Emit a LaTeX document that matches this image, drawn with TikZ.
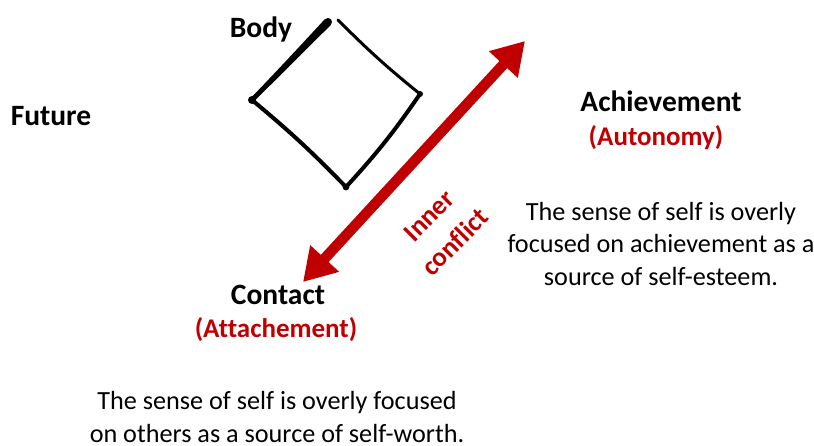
\documentclass[tikz,border=0pt]{standalone}
\usepackage{fontspec}
\setmainfont{Carlito}[Ligatures=NoCommon]
\usetikzlibrary{arrows.meta}
\definecolor{darkred}{HTML}{C00000}
\begin{document}
\begin{tikzpicture}[x=1pt,y=-1pt,
  label/.style={font=\fontsize{29.5}{34}\selectfont\bfseries, inner sep=0pt},
  sublabel/.style={font=\fontsize{27}{31}\selectfont\bfseries, text=darkred, inner sep=0pt},
  desc/.style={font=\fontsize{26.2}{32.5}\selectfont, align=center, inner sep=0pt},
  stroke/.style={line width=4pt, line cap=round, line join=round},
  conflict/.style={line width=10.5pt, darkred,
    {Triangle[length=32pt,width=37pt]}-{Triangle[length=32pt,width=37pt]}}]
\useasboundingbox (0,0) rectangle (814,446);

% labels
\node[label] (body) at (261,29) {Body};
\node[label] (future) at (51,116) {Future};
\node[label] (ach) at (661,101) {Achievement};
\node[sublabel] (auto) at (656,138) {(Autonomy)};
\node[label] (contact) at (278,295) {Contact};
\node[sublabel] (attach) at (276,330) {(Attachement)};

% descriptions
\node[desc] (achdesc) at (661,244) {The sense of self is overly\\focused on achievement as a\\source of self-esteem.};
\node[desc] (condesc) at (277,417) {The sense of self is overly focused\\on others as a source of self-worth.};

% hand-drawn diamond
\coordinate (dtopl) at (328,22);
\coordinate (dtopr) at (338,20);
\coordinate (dleft) at (252,100);
\coordinate (dright) at (420,94);
\coordinate (dbot) at (346,187);
% tapered upper-left stroke
\fill (331,25) .. controls (305,50) and (280,76) .. (253.6,101.6)
  -- (250.4,98.4) .. controls (276,72) and (300,46) .. (325,19) -- cycle;
\fill (dtopl) circle[radius=4pt];
\draw[stroke] (dleft) to[bend left=3] (dbot);
\draw[stroke, line width=3pt] (dtopr) to[bend right=3] (dright);
\draw[stroke] (dright) to[bend left=4] (dbot);
\fill (dleft) circle[radius=4pt];
\fill (dbot) circle[radius=3.4pt];
\fill (dright) circle[radius=3pt];

% inner conflict arrow
\coordinate (alow) at (303,282);
\coordinate (ahigh) at (525,41);
\draw[conflict] (alow) -- (ahigh);
\node[font=\fontsize{27}{37}\selectfont\bfseries, text=darkred, align=center,
  rotate=45, inner sep=0pt] (inner) at (442,229) {Inner\\conflict};
\end{tikzpicture}
\end{document}
